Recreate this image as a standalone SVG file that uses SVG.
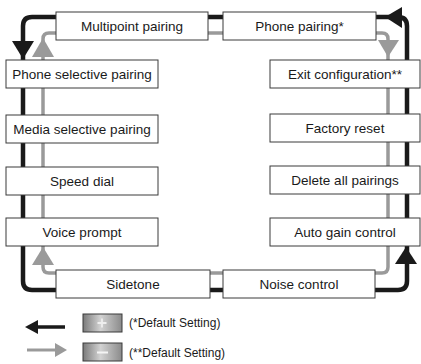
<svg xmlns="http://www.w3.org/2000/svg" width="421" height="364" viewBox="0 0 421 364">
<style>
.box{fill:#fff;stroke:#3a3a3a;stroke-width:1}
.lbl{font-family:"Liberation Sans",Arial,sans-serif;font-size:13.5px;fill:#1a1a1a;text-anchor:middle}
.leg{font-family:"Liberation Sans",Arial,sans-serif;font-size:12px;fill:#1a1a1a}
.blk{fill:none;stroke:#1a1a1a;stroke-width:4.5}
.gry{fill:none;stroke:#9a9a9a;stroke-width:3.5}
.bah{fill:#1a1a1a}
.gah{fill:#9a9a9a}
</style>
<defs>
<linearGradient id="btn" x1="0" y1="0" x2="1" y2="0">
<stop offset="0" stop-color="#7a7a7a"/>
<stop offset="0.45" stop-color="#d2d2d2"/>
<stop offset="1" stop-color="#8a8a8a"/>
</linearGradient>
</defs>
<rect width="421" height="364" fill="#fff"/>
<g id="connectors">
<path class="blk" d="M 32 17 L 398 17 Q 407 17 407 26 L 407 281 Q 407 290 398 290 L 32 290 Q 23 290 23 281 L 23 26 Q 23 17 32 17 Z"/>
<path class="gry" d="M 49 33 L 382 33 Q 388 33 388 39 L 388 267 Q 388 273 382 273 L 49 273 Q 43 273 43 267 L 43 39 Q 43 33 49 33 Z"/>
<polygon class="bah" points="12,41 34,41 23,59"/>
<polygon class="gah" points="32,57 54,57 43,38"/>
<polygon class="gah" points="32,265 54,265 43,247"/>
<polygon class="bah" points="395,264 417,264 406,247"/>
<polygon class="gah" points="378,40 399,40 388,57"/>
<polygon class="bah" points="402,7 402,28 385,17"/>
</g>
<g id="n-multipoint"><rect class="box" x="56" y="12" width="152" height="28"/><text class="lbl" x="132" y="31">Multipoint pairing</text></g>
<g id="n-phone"><rect class="box" x="223" y="12" width="153" height="28"/><text class="lbl" x="299.5" y="31">Phone pairing*</text></g>
<g id="n-phonesel"><rect class="box" x="6" y="60" width="152" height="28"/><text class="lbl" x="82" y="79">Phone selective pairing</text></g>
<g id="n-mediasel"><rect class="box" x="6" y="115" width="152" height="28"/><text class="lbl" x="82" y="134">Media selective pairing</text></g>
<g id="n-speed"><rect class="box" x="6" y="167" width="152" height="28"/><text class="lbl" x="82" y="186">Speed dial</text></g>
<g id="n-voice"><rect class="box" x="6" y="218" width="152" height="28"/><text class="lbl" x="82" y="237">Voice prompt</text></g>
<g id="n-sidetone"><rect class="box" x="56" y="270" width="154" height="28"/><text class="lbl" x="133" y="289">Sidetone</text></g>
<g id="n-noise"><rect class="box" x="223" y="270" width="152" height="28"/><text class="lbl" x="299" y="289">Noise control</text></g>
<g id="n-exit"><rect class="box" x="270" y="60" width="150" height="28"/><text class="lbl" x="345" y="79">Exit configuration**</text></g>
<g id="n-factory"><rect class="box" x="270" y="114" width="150" height="28"/><text class="lbl" x="345" y="133">Factory reset</text></g>
<g id="n-delete"><rect class="box" x="270" y="166" width="150" height="28"/><text class="lbl" x="345" y="185">Delete all pairings</text></g>
<g id="n-agc"><rect class="box" x="270" y="218" width="150" height="28"/><text class="lbl" x="345" y="237">Auto gain control</text></g>
<g id="legend">
<line x1="36" y1="327" x2="65" y2="327" stroke="#1a1a1a" stroke-width="3.5"/>
<polygon class="bah" points="25,327 38,320 38,334"/>
<line x1="27" y1="350" x2="56" y2="350" stroke="#9a9a9a" stroke-width="3"/>
<polygon class="gah" points="67,350 55,343 55,357"/>
<rect x="83" y="314" width="39" height="18" fill="url(#btn)" stroke="#3a3a3a" stroke-width="1"/>
<path d="M 97.5 323 H 106.5 M 102 318.5 V 327.5" stroke="#eeeeee" stroke-width="1.8" fill="none"/>
<rect x="83" y="343" width="39" height="18" fill="url(#btn)" stroke="#3a3a3a" stroke-width="1"/>
<path d="M 97 352.5 H 108" stroke="#f4f4f4" stroke-width="2" fill="none"/>
<text class="leg" x="129" y="327">(*Default Setting)</text>
<text class="leg" x="129" y="357">(**Default Setting)</text>
</g>
</svg>
